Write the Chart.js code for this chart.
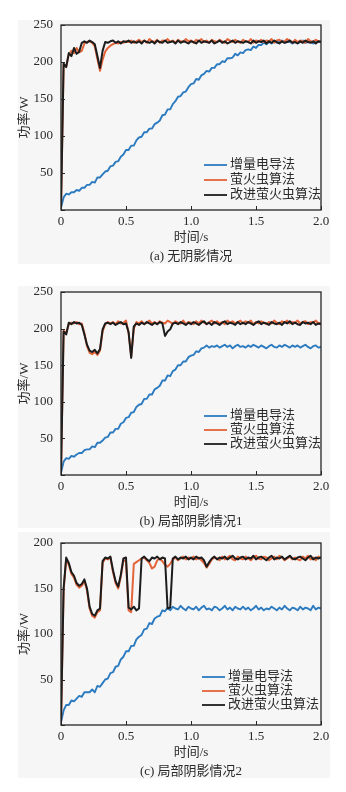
<!DOCTYPE html>
<html>
<head>
<meta charset="utf-8">
<script src="https://cdn.jsdelivr.net/npm/chart.js@4.4.1/dist/chart.umd.min.js"></script>
<style>
  html, body { margin: 0; padding: 0; background: #ffffff; }
  #page { position: relative; width: 346px; height: 792px; overflow: hidden; }
  .panel { position: absolute; left: 18px; width: 312px; background: #f6f6f6; }
  .wrap { position: absolute; left: 0; width: 346px; }
  canvas { display: block; }
</style>
</head>
<body>
<div id="page">
  <div class="panel" style="top:20px;height:244px"></div>
  <div class="panel" style="top:286px;height:242px"></div>
  <div class="panel" style="top:532px;height:246px"></div>
  <div class="wrap" style="top:0px"><canvas id="chartA" width="346" height="265"></canvas></div>
  <div class="wrap" style="top:267px"><canvas id="chartB" width="346" height="265"></canvas></div>
  <div class="wrap" style="top:518px"><canvas id="chartC" width="346" height="274"></canvas></div>
</div>
<script>
// Sampling instants (s), every 0.02 s from 0 to 2.0
const TIME = Array.from({ length: 101 }, (_, i) => +(i * 0.02).toFixed(2));

const SERIES_NAMES = ['增量电导法', '萤火虫算法', '改进萤火虫算法'];
const CAPTIONS = ['(a) 无阴影情况', '(b) 局部阴影情况1', '(c) 局部阴影情况2'];
const X_TITLE = '时间/s';
const Y_TITLE = '功率/W';
const X_TICKS = [0, 0.5, 1.0, 1.5, 2.0];
const Y_MAX = [250, 250, 200];

// (a) no shading — output power (W)
const incA = [
  3, 17, 22, 21, 24, 24, 27, 26, 30, 30,
  34, 34, 38, 37, 44, 44, 48, 52, 53, 59,
  60, 65, 66, 72, 75, 81, 81, 87, 87, 94,
  98, 99, 105, 105, 110, 110, 116, 118, 121, 128,
  129, 136, 136, 143, 147, 153, 154, 159, 160, 166,
  170, 171, 177, 176, 182, 184, 188, 187, 192, 192,
  197, 197, 201, 200, 205, 205, 206, 211, 209, 213,
  212, 216, 217, 216, 221, 219, 223, 223, 226, 224,
  227, 225, 228, 226, 227, 229, 226, 228, 227, 225,
  228, 226, 227, 229, 226, 227, 228, 225, 228, 227,
  227
];
const faA = [
  2, 196, 194, 210, 215, 212, 219, 213, 215, 225,
  227, 228, 226, 221, 204, 188, 203, 214, 219, 222,
  224, 226, 225, 227, 226, 228, 227, 229, 226, 228,
  230, 227, 229, 226, 231, 228, 227, 230, 226, 229,
  228, 231, 227, 229, 226, 230, 228, 227, 231, 228,
  229, 226, 230, 228, 231, 227, 229, 226, 230, 228,
  227, 230, 228, 226, 231, 229, 227, 230, 228, 226,
  230, 228, 227, 231, 226, 229, 228, 230, 227, 229,
  228, 231, 226, 229, 230, 227, 228, 231, 229, 226,
  230, 227, 229, 228, 226, 231, 228, 227, 230, 228,
  228
];
const ifaA = [
  2, 198, 193, 212, 208, 219, 211, 214, 226, 228,
  226, 229, 227, 224, 208, 192, 215, 227, 226, 228,
  229, 226, 228, 225, 228, 227, 229, 226, 228, 226,
  228, 225, 229, 227, 226, 228, 225, 229, 227, 226,
  229, 226, 227, 228, 225, 229, 226, 228, 227, 225,
  228, 227, 225, 229, 226, 228, 227, 226, 229, 225,
  227, 229, 226, 228, 225, 227, 229, 226, 228, 227,
  226, 228, 227, 225, 229, 226, 228, 227, 229, 225,
  228, 226, 229, 227, 225, 228, 226, 227, 229, 226,
  227, 225, 228, 226, 229, 227, 226, 228, 225, 228,
  227
];

// (b) partial shading 1
const incB = [
  3, 18, 23, 22, 26, 25, 28, 30, 30, 34,
  35, 35, 39, 38, 44, 44, 47, 51, 52, 58,
  58, 63, 63, 70, 72, 78, 79, 85, 86, 93,
  96, 97, 104, 104, 110, 110, 117, 119, 122, 129,
  129, 136, 135, 142, 144, 150, 150, 155, 155, 161,
  163, 164, 169, 168, 173, 174, 177, 174, 176, 175,
  177, 174, 176, 178, 175, 177, 173, 176, 178, 175,
  176, 174, 177, 175, 178, 176, 174, 177, 175, 173,
  176, 178, 175, 174, 177, 175, 178, 176, 174, 177,
  175, 177, 174, 176, 178, 175, 173, 176, 177, 174,
  175
];
const faB = [
  2, 197, 194, 206, 208, 207, 209, 206, 207, 194,
  176, 167, 165, 168, 164, 170, 196, 206, 209, 207,
  209, 206, 210, 207, 208, 211, 194, 162, 200, 209,
  207, 210, 206, 208, 211, 207, 209, 206, 210, 208,
  207, 211, 209, 206, 210, 208, 207, 211, 206, 209,
  208, 206, 210, 207, 211, 208, 206, 209, 211, 207,
  210, 207, 209, 206, 211, 208, 210, 207, 209, 211,
  207, 210, 208, 211, 206, 209, 207, 210, 208, 206,
  209, 207, 211, 208, 206, 210, 208, 211, 207, 209,
  208, 211, 207, 209, 210, 206, 209, 208, 211, 207,
  208
];
const ifaB = [
  2, 196, 192, 208, 206, 209, 207, 208, 205, 192,
  178, 170, 168, 171, 166, 172, 199, 207, 208, 206,
  208, 205, 207, 209, 206, 207, 195, 160, 203, 207,
  205, 208, 206, 209, 207, 205, 208, 206, 209, 207,
  190, 196, 199, 207, 208, 206, 209, 207, 205, 208,
  206, 209, 207, 205, 208, 210, 206, 208, 205, 209,
  207, 205, 208, 210, 206, 208, 207, 205, 209, 206,
  208, 206, 209, 207, 205, 208, 210, 206, 208, 207,
  205, 209, 207, 206, 208, 205, 209, 207, 210, 206,
  208, 206, 205, 209, 207, 208, 206, 209, 205, 207,
  206
];

// (c) partial shading 2
const incC = [
  3, 16, 22, 22, 27, 26, 29, 32, 31, 36,
  36, 36, 39, 36, 43, 42, 46, 50, 51, 57,
  58, 64, 65, 72, 75, 81, 81, 87, 87, 94,
  97, 99, 105, 106, 112, 111, 117, 119, 120, 126,
  125, 129, 126, 130, 128, 127, 131, 128, 126, 130,
  128, 127, 130, 126, 129, 131, 127, 128, 126, 130,
  129, 126, 128, 131, 127, 129, 126, 130, 128, 127,
  130, 127, 129, 126, 128, 131, 127, 129, 126, 128,
  127, 130, 128, 126, 129, 127, 131, 128, 126, 129,
  128, 126, 130, 127, 129, 128, 126, 131, 127, 129,
  128
];
const faC = [
  3, 148, 182, 176, 166, 162, 154, 151, 153, 158,
  148, 128, 120, 118, 124, 126, 178, 183, 182, 184,
  168, 156, 150, 163, 181, 180, 126, 124, 177, 179,
  181, 183, 184, 181, 178, 172, 174, 181, 183, 180,
  176, 174, 177, 182, 184, 181, 183, 185, 182, 184,
  183, 185, 182, 184, 181, 178, 173, 177, 182, 184,
  183, 181, 185, 182, 184, 186, 182, 181, 185, 183,
  182, 185, 183, 181, 184, 186, 183, 182, 185, 184,
  181, 183, 185, 182, 186, 184, 181, 183, 185, 182,
  184, 182, 181, 185, 183, 186, 182, 184, 181, 185,
  183
];
const ifaC = [
  3, 150, 184, 178, 168, 164, 156, 153, 155, 160,
  150, 130, 122, 120, 126, 128, 180, 184, 183, 185,
  170, 158, 152, 165, 183, 184, 129, 127, 130, 126,
  128, 183, 185, 182, 180, 184, 183, 185, 182, 184,
  183, 128, 129, 183, 185, 182, 184, 183, 185, 182,
  184, 182, 185, 183, 184, 181, 174, 179, 183, 185,
  182, 184, 183, 185, 182, 184, 186, 183, 182, 184,
  185, 182, 184, 183, 186, 182, 184, 185, 183, 181,
  184, 186, 182, 184, 183, 185, 182, 184, 186, 183,
  182, 184, 185, 183, 181, 184, 186, 182, 184, 183,
  184
];

const COLORS = { inc: '#2c7bc0', fa: '#e4643a', ifa: '#1c1c1c' };
const SERIF = '"Liberation Serif", "Noto Sans CJK SC", serif';
const TEXT = '#2a2a2a';

const toPoints = vals => vals.map((v, i) => ({ x: TIME[i], y: v }));

// Frame, inner tick marks, axis titles, caption and legend
const decorPlugin = {
  id: 'decor',
  afterDatasetsDraw(chart, args, o) {
    const { ctx, chartArea: a, scales: { x, y } } = chart;
    ctx.save();
    ctx.strokeStyle = '#262626';
    ctx.lineWidth = 1.3;
    ctx.strokeRect(a.left, a.top, a.width, a.height);
    ctx.lineWidth = 1;
    ctx.beginPath();
    x.ticks.forEach(t => {
      const px = Math.round(x.getPixelForValue(t.value)) + 0.5;
      ctx.moveTo(px, a.bottom); ctx.lineTo(px, a.bottom - 4);
    });
    y.ticks.forEach(t => {
      const py = Math.round(y.getPixelForValue(t.value)) + 0.5;
      ctx.moveTo(a.left, py); ctx.lineTo(a.left + 4, py);
    });
    ctx.stroke();

    ctx.fillStyle = TEXT;
    ctx.font = '13px ' + SERIF;
    ctx.textAlign = 'center';
    ctx.textBaseline = 'middle';
    const cx = (a.left + a.right) / 2;
    ctx.fillText(X_TITLE, cx, a.bottom + 28);
    ctx.fillText(o.caption, cx, a.bottom + 47);
    ctx.save();
    ctx.translate(25, (a.top + a.bottom) / 2);
    ctx.rotate(-Math.PI / 2);
    ctx.fillText(Y_TITLE, 0, 0);
    ctx.restore();

    // legend
    ctx.textAlign = 'left';
    ctx.font = '13px ' + SERIF;
    const order = [2, 1, 0];
    order.forEach((di, row) => {
      const ds = chart.data.datasets[di];
      const ly = a.bottom + o.legendRows[row];
      ctx.strokeStyle = ds.borderColor;
      ctx.lineWidth = 1.8;
      ctx.beginPath();
      ctx.moveTo(o.legendX, ly); ctx.lineTo(o.legendX + 23, ly);
      ctx.stroke();
      ctx.fillText(ds.label, o.legendX + 26, ly);
    });
    ctx.restore();
  }
};

function makeChart(id, inc, fa, ifa, cfg) {
  return new Chart(document.getElementById(id), {
    type: 'line',
    data: {
      datasets: [
        { label: SERIES_NAMES[2], data: toPoints(ifa), borderColor: COLORS.ifa, borderWidth: 2, order: 0 },
        { label: SERIES_NAMES[1], data: toPoints(fa), borderColor: COLORS.fa, borderWidth: 2, order: 1 },
        { label: SERIES_NAMES[0], data: toPoints(inc), borderColor: COLORS.inc, borderWidth: 1.9, order: 2 }
      ]
    },
    options: {
      responsive: false,
      animation: false,
      events: [],
      elements: { point: { radius: 0 }, line: { tension: 0, borderJoinStyle: 'round' } },
      layout: { padding: { left: 0, top: 25, right: 25, bottom: cfg.bottomPad } },
      scales: {
        x: {
          type: 'linear', min: 0, max: 2,
          afterFit: s => { s.height = 20; },
          afterBuildTicks: s => { s.ticks = X_TICKS.map(v => ({ value: v })); },
          grid: { display: false, drawTicks: false },
          border: { display: false },
          ticks: {
            padding: 4, color: TEXT, maxRotation: 0, autoSkip: false,
            font: { family: SERIF, size: 13 },
            callback: v => (v === 0 ? '0' : v.toFixed(1))
          }
        },
        y: {
          min: 0, max: cfg.ymax,
          afterFit: s => { s.width = 61; },
          grid: { display: false, drawTicks: false },
          border: { display: false },
          ticks: {
            stepSize: 50, padding: 8, color: TEXT,
            font: { family: SERIF, size: 13 },
            callback: v => (v === 0 ? '' : String(v))
          }
        }
      },
      plugins: {
        legend: { display: false },
        tooltip: { enabled: false },
        decor: { caption: cfg.caption, legendX: cfg.legendX, legendRows: cfg.legendRows }
      }
    },
    plugins: [decorPlugin]
  });
}

makeChart('chartA', incA, faA, ifaA, { ymax: Y_MAX[0], caption: CAPTIONS[0], bottomPad: 35, legendX: 204, legendRows: [-45, -30, -15] });
makeChart('chartB', incB, faB, ifaB, { ymax: Y_MAX[1], caption: CAPTIONS[1], bottomPad: 37, legendX: 204, legendRows: [-59, -45, -31] });
makeChart('chartC', incC, faC, ifaC, { ymax: Y_MAX[2], caption: CAPTIONS[2], bottomPad: 47, legendX: 202, legendRows: [-48, -34, -20] });
</script>
</body>
</html>
